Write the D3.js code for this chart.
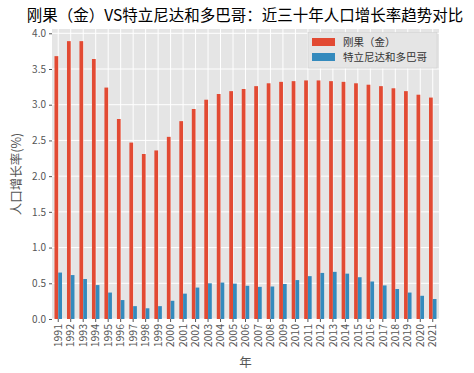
<!DOCTYPE html>
<html>
<head>
<meta charset="utf-8">
<script src="https://cdn.jsdelivr.net/npm/d3@7"></script>
<style>
  body { margin: 0; background: #fff; }
  text { font-family: "Noto Sans CJK SC", "DejaVu Sans", sans-serif; }
</style>
</head>
<body>
<div id="chart"></div>
<script>
// data
var years = d3.range(1991, 2022).map(String);
var seriesNames = ["刚果（金）", "特立尼达和多巴哥"];
var congo = [3.68, 3.89, 3.89, 3.64, 3.24, 2.80, 2.47, 2.31, 2.36, 2.55,
  2.77, 2.94, 3.07, 3.15, 3.19, 3.22, 3.26, 3.30, 3.32, 3.33,
  3.34, 3.34, 3.33, 3.32, 3.30, 3.28, 3.26, 3.23, 3.19, 3.14, 3.10];
var trinidad = [0.65, 0.615, 0.56, 0.475, 0.37, 0.265, 0.18, 0.15, 0.18, 0.255,
  0.355, 0.44, 0.50, 0.51, 0.495, 0.465, 0.45, 0.455, 0.49, 0.545,
  0.60, 0.645, 0.66, 0.635, 0.585, 0.525, 0.47, 0.42, 0.37, 0.325, 0.28];
var yTicks = [0, 0.5, 1.0, 1.5, 2.0, 2.5, 3.0, 3.5, 4.0];
var colors = ["#E24A33", "#348ABD"];

var svgWidth = 474;
var svgHeight = 373;
var margin = { top: 29, right: 35, bottom: 54, left: 52 };
var width = svgWidth - margin.left - margin.right;
var height = svgHeight - margin.top - margin.bottom;

var svg = d3.select("#chart")
  .append("svg")
  .attr("width", svgWidth)
  .attr("height", svgHeight);

var chartGroup = svg.append("g")
  .attr("transform", `translate(${margin.left}, ${margin.top})`);

// scales
var xScale = d3.scaleBand()
  .domain(years)
  .range([0, width])
  .paddingInner(0.4)
  .paddingOuter(0.2);

var xSub = d3.scaleBand()
  .domain([0, 1])
  .range([0, xScale.bandwidth()]);

var yScale = d3.scaleLinear()
  .domain([0, 4.06])
  .range([height, 0]);

// background + grid
chartGroup.append("rect")
  .attr("width", width)
  .attr("height", height)
  .attr("fill", "#E5E5E5");

chartGroup.selectAll(".hgrid")
  .data(yTicks)
  .enter()
  .append("line")
  .attr("x1", 0)
  .attr("x2", width)
  .attr("y1", d => yScale(d))
  .attr("y2", d => yScale(d))
  .attr("stroke", "#fff")
  .attr("stroke-width", 1);

chartGroup.selectAll(".vgrid")
  .data(years)
  .enter()
  .append("line")
  .attr("x1", d => xScale(d) + xScale.bandwidth() / 2)
  .attr("x2", d => xScale(d) + xScale.bandwidth() / 2)
  .attr("y1", 0)
  .attr("y2", height)
  .attr("stroke", "#fff")
  .attr("stroke-width", 1);

// bars
[congo, trinidad].forEach(function(values, i) {
  chartGroup.selectAll(".bar" + i)
    .data(values)
    .enter()
    .append("rect")
    .attr("x", (d, j) => xScale(years[j]) + xSub(i))
    .attr("y", d => yScale(d))
    .attr("width", xSub.bandwidth())
    .attr("height", d => height - yScale(d))
    .attr("fill", colors[i]);
});

// axes
var xAxis = d3.axisBottom(xScale).tickSize(3).tickPadding(2);
var yAxis = d3.axisLeft(yScale).tickValues(yTicks).tickFormat(d3.format(".1f")).tickSize(3).tickPadding(3);

var xg = chartGroup.append("g")
  .attr("transform", `translate(0, ${height})`)
  .call(xAxis);
xg.select(".domain").remove();
xg.selectAll("line").attr("stroke", "#555");
xg.selectAll("text")
  .attr("transform", "rotate(-90)")
  .attr("x", -5)
  .attr("y", 0)
  .attr("dy", "0.35em")
  .style("text-anchor", "end")
  .attr("font-size", "10.5px")
  .attr("fill", "#555");

var yg = chartGroup.append("g").call(yAxis);
yg.select(".domain").remove();
yg.selectAll("line").attr("stroke", "#555");
yg.selectAll("text")
  .attr("font-size", "10px")
  .attr("fill", "#555");

// labels
svg.append("text")
  .attr("x", 245)
  .attr("y", 21)
  .style("text-anchor", "middle")
  .attr("font-size", "15.5px")
  .attr("fill", "#000")
  .text("刚果（金）VS特立尼达和多巴哥：近三十年人口增长率趋势对比");

svg.append("text")
  .attr("transform", `translate(21, ${margin.top + height / 2}) rotate(-90)`)
  .style("text-anchor", "middle")
  .attr("font-size", "12.5px")
  .attr("fill", "#555")
  .text("人口增长率(%)");

svg.append("text")
  .attr("x", margin.left + width / 2)
  .attr("y", 367)
  .style("text-anchor", "middle")
  .attr("font-size", "12.5px")
  .attr("fill", "#555")
  .text("年");

// legend
var legend = chartGroup.append("g")
  .attr("transform", `translate(${width - 131}, 3.5)`);

legend.append("rect")
  .attr("width", 129)
  .attr("height", 35.5)
  .attr("fill", "#E5E5E5")
  .attr("stroke", "#ccc")
  .attr("stroke-width", 0.5);

seriesNames.forEach(function(name, i) {
  legend.append("rect")
    .attr("x", 4)
    .attr("y", 5.5 + i * 15)
    .attr("width", 23)
    .attr("height", 8)
    .attr("fill", colors[i]);
  legend.append("text")
    .attr("x", 35)
    .attr("y", 9.5 + i * 15)
    .attr("dy", "0.35em")
    .attr("font-size", "10.5px")
    .attr("fill", "#333")
    .text(name);
});
</script>
</body>
</html>
